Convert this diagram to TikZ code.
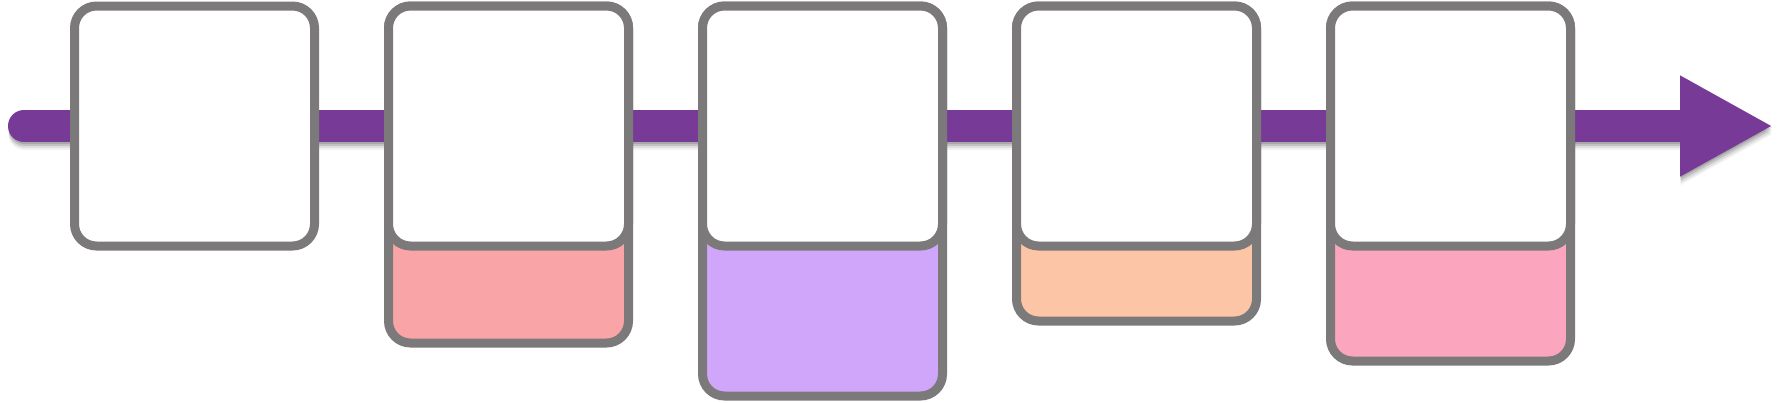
\documentclass[tikz,border=0pt]{standalone}
\usepackage{tikz}
\usetikzlibrary{chains,positioning,arrows.meta,backgrounds}

\definecolor{boxgray}{RGB}{123,121,122}
\definecolor{arrowpurple}{RGB}{120,58,151}
\definecolor{salmon}{RGB}{249,164,166}
\definecolor{lilac}{RGB}{208,166,250}
\definecolor{peach}{RGB}{252,198,166}
\definecolor{rose}{RGB}{252,165,190}

\tikzset{
  stagebox/.style={draw=boxgray, fill=white, line width=4.5pt, rounded corners=11pt,
    minimum width=120pt, minimum height=120pt, inner sep=0pt},
  timeline/.style={line width=16pt, line cap=round,
    -{Triangle[length=46.5pt, width=47pt]}},
}

\begin{document}
\begin{tikzpicture}[x=0.5pt, y=-0.5pt, start chain=1 going right, node distance=32.5pt]
    \useasboundingbox (0,0) rectangle (1782,402);
    \coordinate (tl-start) at (24,126);
    \coordinate (tl-end) at (1773,126);
    % shadow under the time line
    \foreach \s/\o in {0.8/0.14,2/0.12,3.2/0.08,4.2/0.05} {
      \draw[timeline, black, opacity=\o, transform canvas={xshift=0.3pt, yshift=-\s pt}]
        (tl-start) -- (tl-end);
    }
    \draw[timeline, arrowpurple] (tl-start) -- (tl-end);
    \node [stagebox, on chain=1] (t1) at (194.5,126) {};
    \foreach \i in {2,...,5} {
      \node [stagebox, on chain=1] (t\i) {};
    }
    \begin{pgfonlayer}{background}
      \foreach \i/\c/\h in {2/salmon/168.5pt, 3/lilac/195pt, 4/peach/157.5pt, 5/rose/177.5pt} {
        \node [stagebox, fill=\c, minimum height=\h, anchor=north] (s\i) at (t\i.north) {};
      }
    \end{pgfonlayer}
  \end{tikzpicture}
\end{document}
